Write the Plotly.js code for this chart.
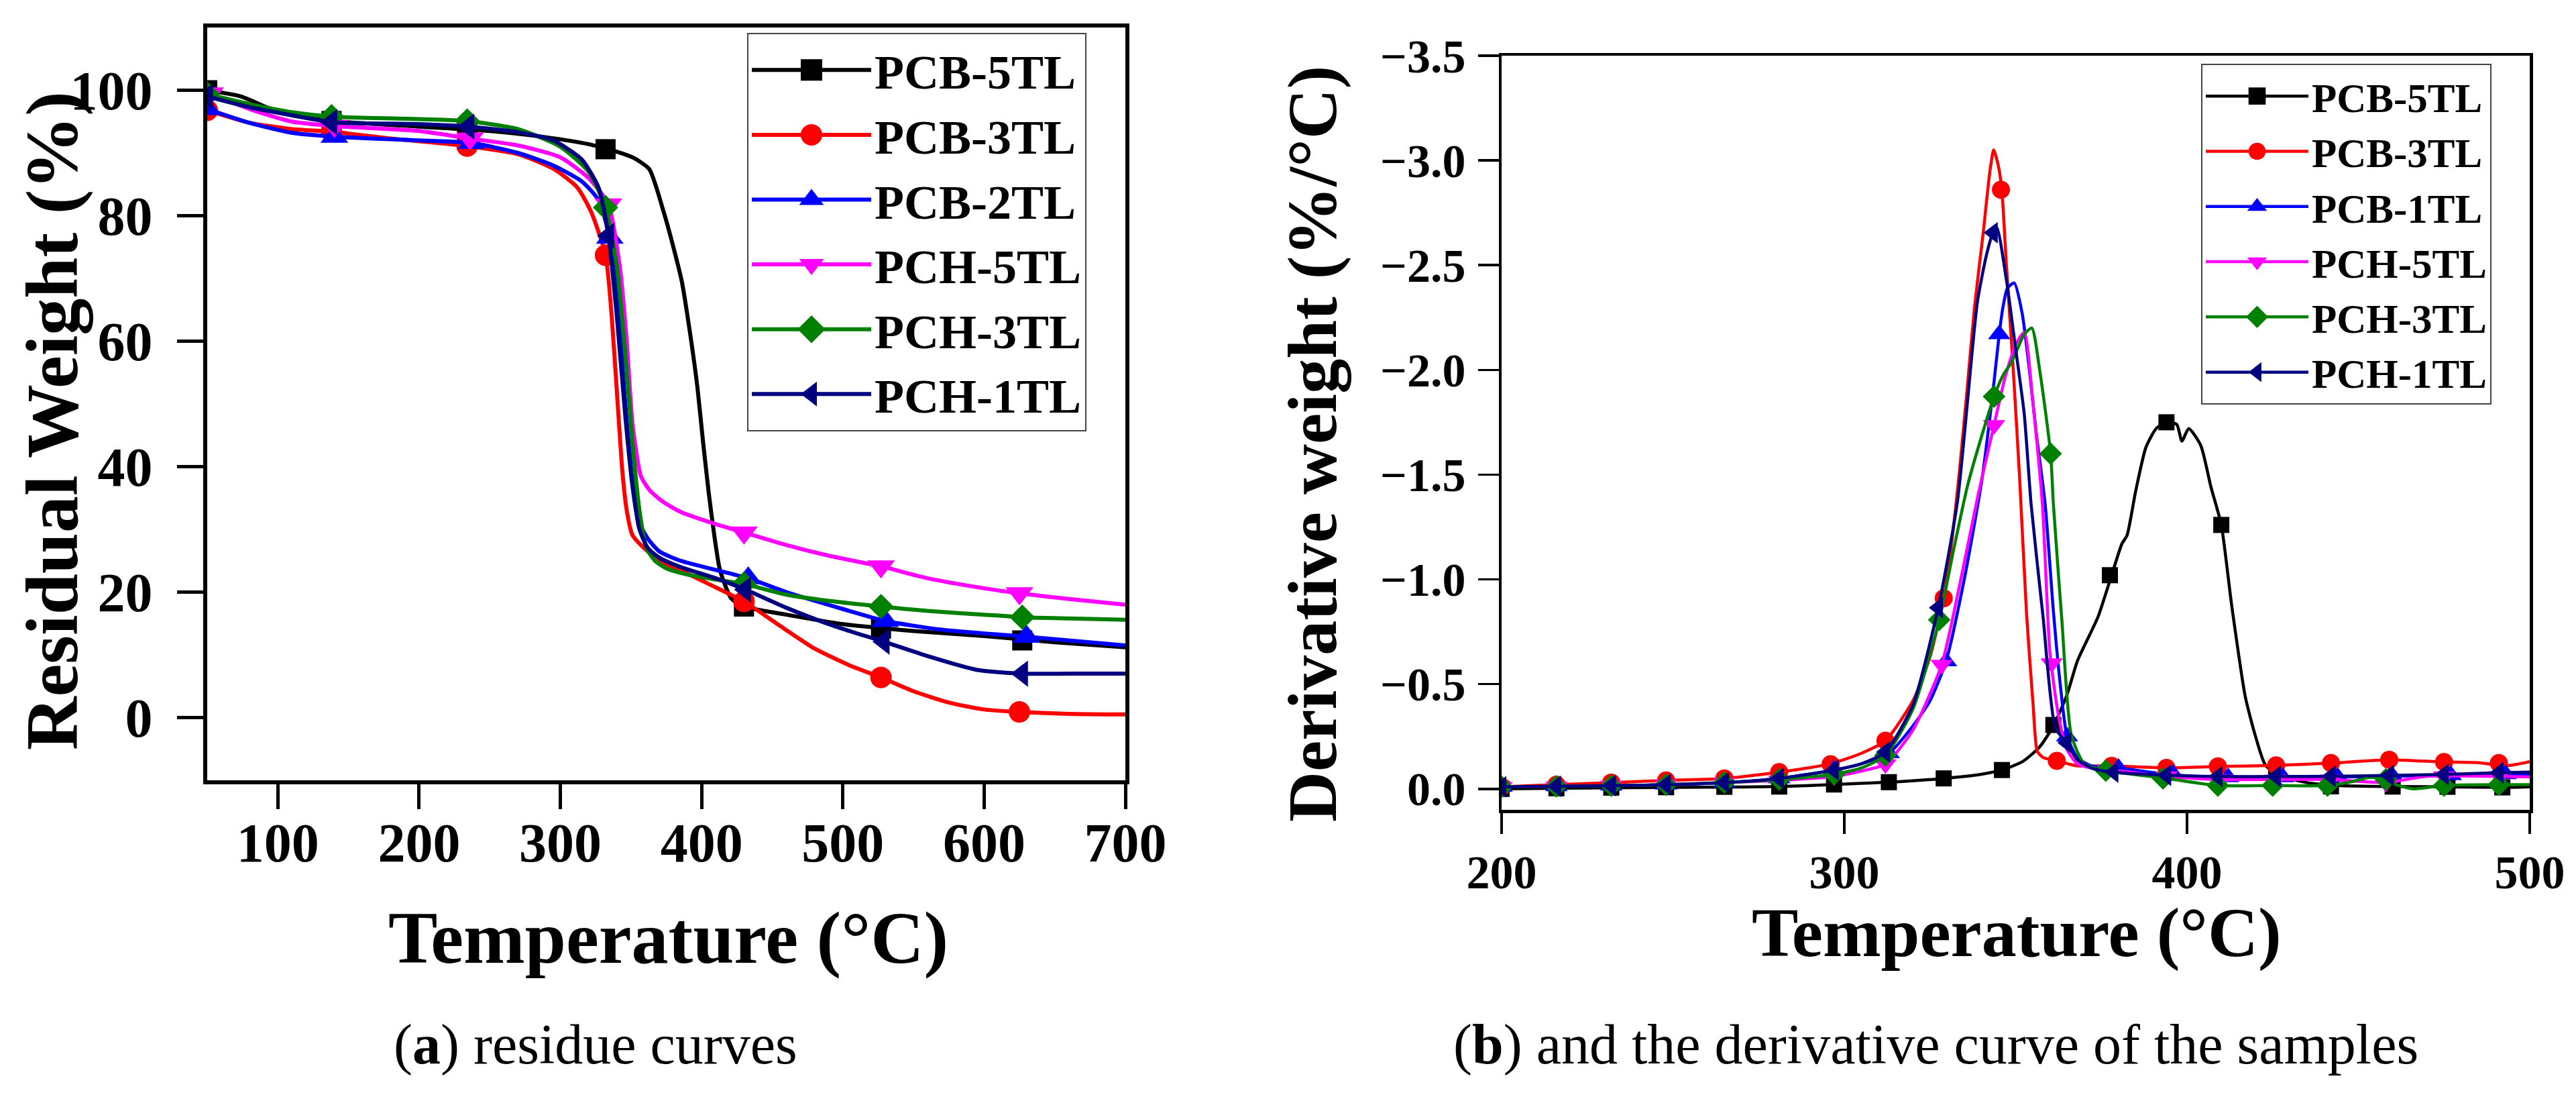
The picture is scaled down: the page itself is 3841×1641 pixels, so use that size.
<!DOCTYPE html>
<html>
<head>
<meta charset="utf-8">
<script src="https://cdn.plot.ly/plotly-3.0.1.min.js"></script>
<style>
  html, body { margin: 0; padding: 0; background: #fff; }
  #chart { width: 3841px; height: 1641px; }
</style>
</head>
<body>
<div id="chart"></div>
<script>
var W = 3841, H = 1641;
var FONT = 'Liberation Serif, Times New Roman, serif';

// ---- (a) residue curves (TGA), residual weight %
var tgaB5x = [50, 74, 93, 110, 138, 200, 250, 290, 320, 340, 352, 363, 373, 380, 386, 392, 397, 401, 405, 409, 413, 421, 430, 460, 500, 550, 600, 650, 700];
var tgaB5y = [100, 99, 97.2, 96, 95.1, 94.2, 93.5, 92.5, 91.4, 90.2, 89.2, 87.4, 80.7, 75, 69.5, 61, 52.7, 44, 35.9, 29, 23.5, 19, 17.7, 16.4, 14.9, 13.8, 13, 12, 11.2];
var tgaB3x = [50, 80, 110, 138, 180, 234, 270, 295, 312, 322, 332, 336, 340, 344, 347, 351, 357, 369, 385, 405, 430, 455, 480, 505, 527, 550, 575, 600, 625, 660, 700];
var tgaB3y = [96.8, 94.8, 93.8, 93.4, 92.3, 91.1, 89.8, 87.5, 84.5, 80.5, 73.7, 65, 52, 39, 33, 29.1, 27.5, 25.2, 23.5, 21.3, 18.5, 14.7, 11, 8.3, 6.4, 4.2, 2.4, 1.3, 0.9, 0.6, 0.5];
var tgaB2x = [50, 80, 110, 140, 200, 237, 270, 295, 315, 327, 335, 341, 346, 351, 356, 362, 370, 385, 405, 433, 460, 500, 530, 570, 600, 630, 665, 700];
var tgaB2y = [97, 94.8, 93.2, 92.6, 92, 91.6, 90, 88, 85.5, 82.5, 76.5, 65, 50, 38, 31, 28.5, 26.5, 25, 23.8, 22.2, 20, 17.3, 15.4, 14, 13.4, 12.9, 12.2, 11.5];
var tgaH5x = [50, 80, 110, 140, 200, 236, 270, 300, 320, 334, 342, 347, 351, 357, 363, 372, 385, 405, 430, 460, 490, 527, 560, 600, 625, 660, 700];
var tgaH5y = [99.7, 97, 95, 94.3, 93.5, 92.3, 91.2, 89.3, 86, 81.8, 72, 60, 47, 38.5, 36.3, 34.5, 32.8, 31.2, 29.5, 27.5, 25.8, 24.1, 22.2, 20.6, 19.8, 18.9, 18];
var tgaH3x = [50, 80, 110, 138, 200, 234, 270, 300, 320, 332, 340, 346, 351, 356, 361, 367, 375, 390, 410, 430, 460, 490, 527, 560, 600, 627, 660, 700];
var tgaH3y = [99.4, 97.8, 96.5, 95.8, 95.4, 95.1, 93.8, 91, 87, 81.3, 72, 58, 44, 33, 27, 25, 23.8, 22.8, 22, 21.3, 19.6, 18.6, 17.7, 17, 16.4, 16, 15.8, 15.6];
var tgaH1x = [50, 80, 110, 138, 200, 235, 270, 295, 315, 327, 334, 340, 346, 351, 356, 362, 370, 385, 410, 431, 460, 495, 529, 560, 595, 627, 660, 700];
var tgaH1y = [99, 97.3, 96, 94.9, 94.6, 94.2, 93.3, 92, 89, 84.5, 76.8, 64, 48, 37, 30, 27, 25.5, 24, 22.2, 20.4, 17.5, 14.5, 12.1, 9.8, 7.6, 7.0, 7, 7];

// symbols sit on every few points of each curve
var tgaB5mx = [50, 138, 234, 332, 430, 527, 627];
var tgaB5my = [100, 95.1, 93.7, 90.6, 17.7, 14.2, 12.3];
var tgaB3mx = [50, 138, 234, 332, 430, 527, 625];
var tgaB3my = [96.8, 93.4, 91.1, 73.7, 18.5, 6.4, 0.9];
var tgaB2mx = [50, 140, 237, 335, 433, 530, 630];
var tgaB2my = [97, 92.6, 91.6, 76.5, 22.2, 15.4, 12.9];
var tgaH5mx = [52, 140, 236, 334, 430, 527, 625];
var tgaH5my = [99.5, 94.3, 92.3, 81.8, 29.5, 24.1, 19.8];
var tgaH3mx = [50, 138, 234, 332, 430, 527, 627];
var tgaH3my = [99.4, 95.8, 95.1, 81.3, 21.3, 17.7, 16.0];
var tgaH1mx = [50, 138, 235, 334, 431, 529, 627];
var tgaH1my = [99, 94.9, 94.2, 76.8, 20.4, 12.1, 7.0];

// ---- (b) derivative curves (DTG), %/°C
var dtgB5x = [200, 230, 260, 281, 297, 313, 329, 340, 346, 352, 357, 361, 365, 368, 374, 378, 381, 382.5, 385, 388, 391, 394, 397, 398.5, 400.5, 404, 407, 410, 413, 417, 420, 423, 428, 435, 445, 460, 476, 492, 500];
var dtgB5y = [0, -0.005, -0.008, -0.011, -0.021, -0.032, -0.05, -0.07, -0.09, -0.13, -0.2, -0.3, -0.45, -0.61, -0.82, -1.02, -1.17, -1.21, -1.42, -1.63, -1.72, -1.75, -1.74, -1.66, -1.72, -1.64, -1.44, -1.26, -0.88, -0.44, -0.25, -0.11, -0.06, -0.03, -0.015, -0.011, -0.01, -0.007, -0.01];
var dtgB3x = [200, 216, 232, 248, 265, 281, 296, 305, 312, 320, 325, 329, 331.5, 333.5, 335.8, 338, 340.5, 342.5, 343.6, 345, 346, 347.3, 349.3, 351.2, 353.2, 355.1, 356.3, 358, 362, 368, 378, 394, 409, 426, 442, 459, 475, 485, 493, 500];
var dtgB3y = [-0.01, -0.02, -0.03, -0.04, -0.05, -0.08, -0.12, -0.17, -0.23, -0.42, -0.63, -0.91, -1.2, -1.5, -1.9, -2.3, -2.65, -2.95, -3.05, -2.97, -2.85, -2.5, -2.0, -1.47, -0.83, -0.4, -0.18, -0.15, -0.134, -0.11, -0.11, -0.1, -0.107, -0.112, -0.123, -0.139, -0.128, -0.125, -0.11, -0.13];
var dtgB1x = [200, 216, 232, 248, 265, 281, 297, 305, 313, 320, 325, 329.7, 335, 340.1, 343.4, 345.2, 346.3, 347.6, 349.6, 351.9, 354, 356, 358.6, 361, 363, 365, 368, 372, 380, 394, 409, 426, 442, 459, 475, 491, 500];
var dtgB1y = [-0.01, -0.012, -0.015, -0.02, -0.03, -0.05, -0.09, -0.12, -0.17, -0.3, -0.42, -0.61, -1.0, -1.47, -1.9, -2.17, -2.3, -2.39, -2.415, -2.27, -2.0, -1.7, -1.36, -0.85, -0.5, -0.25, -0.15, -0.11, -0.1, -0.07, -0.055, -0.055, -0.056, -0.06, -0.065, -0.07, -0.07];
var dtgH5x = [200, 216, 232, 248, 265, 281, 297, 305, 312, 320, 328.4, 334, 339, 343.7, 347, 350, 352.5, 355, 357.8, 360, 362.5, 364.9, 368, 372, 378, 394, 409, 426, 442, 458, 470, 490, 500];
var dtgH5y = [-0.01, -0.012, -0.015, -0.02, -0.03, -0.04, -0.06, -0.085, -0.118, -0.28, -0.593, -1.0, -1.4, -1.737, -1.97, -2.12, -2.18, -1.85, -1.36, -0.65, -0.35, -0.19, -0.12, -0.1, -0.09, -0.06, -0.045, -0.045, -0.045, -0.03, -0.06, -0.06, -0.057];
var dtgH3x = [200, 216, 232, 248, 265, 281, 297, 305, 312, 320, 327.7, 332, 336, 340, 343.7, 346.5, 348.6, 350.5, 352.5, 354.7, 357, 360.2, 361, 363.5, 366.2, 370, 376.3, 394, 409, 425, 441, 447, 453, 456, 461, 466, 475, 491, 500];
var dtgH3y = [-0.01, -0.012, -0.015, -0.02, -0.03, -0.045, -0.07, -0.1, -0.16, -0.38, -0.807, -1.15, -1.45, -1.68, -1.873, -1.98, -2.03, -2.1, -2.17, -2.2, -2.0, -1.6, -1.36, -0.8, -0.26, -0.12, -0.087, -0.05, -0.016, -0.016, -0.016, -0.03, -0.054, -0.05, -0.02, 0.0, -0.016, -0.02, -0.02];
var dtgH1x = [200, 216, 232, 248, 265, 281, 297, 305, 312, 320, 327.4, 333, 338.8, 341.5, 343.4, 344.5, 347.3, 350, 352.5, 354.5, 358, 361.6, 364.9, 368, 372, 378, 394, 409, 426, 442, 459, 475, 491, 500];
var dtgH1y = [-0.01, -0.012, -0.015, -0.02, -0.03, -0.05, -0.09, -0.12, -0.176, -0.4, -0.865, -1.37, -2.32, -2.55, -2.655, -2.68, -2.43, -2.1, -1.79, -1.36, -0.82, -0.29, -0.22, -0.14, -0.1, -0.08, -0.065, -0.059, -0.059, -0.06, -0.064, -0.069, -0.077, -0.08];

var dtgB5mx = [200, 216, 232, 248, 265, 281, 297, 313, 329, 346, 361, 377.5, 394, 410, 426, 442, 460, 476, 492];
var dtgB5my = [0, -0.003, -0.006, -0.008, -0.01, -0.011, -0.021, -0.032, -0.05, -0.09, -0.305, -1.02, -1.75, -1.26, -0.08, -0.012, -0.011, -0.01, -0.007];
var dtgB3mx = [200, 216, 232, 248, 265, 281, 296, 312, 329, 345.7, 362, 378, 394, 409, 426, 442, 459, 475, 491];
var dtgB3my = [-0.01, -0.02, -0.03, -0.04, -0.05, -0.08, -0.118, -0.23, -0.91, -2.86, -0.134, -0.11, -0.1, -0.107, -0.112, -0.123, -0.139, -0.128, -0.123];
var dtgB1mx = [200, 216, 232, 248, 265, 281, 297, 313, 329.7, 345.2, 365, 380, 396, 412, 428, 444, 460, 477, 493];
var dtgB1my = [-0.01, -0.012, -0.015, -0.02, -0.03, -0.05, -0.09, -0.17, -0.609, -2.17, -0.25, -0.1, -0.07, -0.055, -0.055, -0.056, -0.06, -0.065, -0.07];
var dtgH5mx = [200, 216, 232, 248, 265, 281, 297, 312, 328.4, 343.7, 360.5, 377, 394, 410, 426, 442, 458, 475, 491];
var dtgH5my = [-0.01, -0.012, -0.015, -0.02, -0.03, -0.04, -0.06, -0.118, -0.593, -1.737, -0.6, -0.09, -0.06, -0.045, -0.045, -0.045, -0.03, -0.06, -0.06];
var dtgH3mx = [200, 216, 232, 248, 265, 281, 297, 312, 327.7, 343.7, 360.2, 376.3, 393, 409, 425, 441, 458, 475, 491];
var dtgH3my = [-0.01, -0.012, -0.015, -0.02, -0.03, -0.045, -0.07, -0.16, -0.807, -1.873, -1.6, -0.087, -0.05, -0.016, -0.016, -0.016, -0.045, -0.016, -0.02];
var dtgH1mx = [200, 216, 232, 248, 265, 281, 297, 312, 327.4, 343.4, 364.9, 378.6, 394, 409, 426, 442, 459, 475, 491];
var dtgH1my = [-0.01, -0.012, -0.015, -0.02, -0.03, -0.05, -0.09, -0.176, -0.865, -2.655, -0.22, -0.08, -0.065, -0.059, -0.059, -0.06, -0.064, -0.069, -0.077];

// styles (kept apart from the values)
var tgaStyle = [
	{name: 'PCB-5TL', color: '#000000', symbol: 'square', size: 30},
	{name: 'PCB-3TL', color: '#ff0000', symbol: 'circle', size: 32},
	{name: 'PCB-2TL', color: '#0000ff', symbol: 'triangle-up', size: 36},
	{name: 'PCH-5TL', color: '#ff00ff', symbol: 'triangle-down', size: 36},
	{name: 'PCH-3TL', color: '#008000', symbol: 'diamond', size: 29},
	{name: 'PCH-1TL', color: '#000080', symbol: 'triangle-left', size: 34}
];
var dtgStyle = [
	{name: 'PCB-5TL', color: '#000000', symbol: 'square', size: 24},
	{name: 'PCB-3TL', color: '#ff0000', symbol: 'circle', size: 27},
	{name: 'PCB-1TL', color: '#0000ff', symbol: 'triangle-up', size: 29},
	{name: 'PCH-5TL', color: '#ff00ff', symbol: 'triangle-down', size: 29},
	{name: 'PCH-3TL', color: '#008000', symbol: 'diamond', size: 26},
	{name: 'PCH-1TL', color: '#000080', symbol: 'triangle-left', size: 28}
];

var tgaLines = [[tgaB5x, tgaB5y], [tgaB3x, tgaB3y], [tgaB2x, tgaB2y], [tgaH5x, tgaH5y], [tgaH3x, tgaH3y], [tgaH1x, tgaH1y]];
var tgaMarks = [[tgaB5mx, tgaB5my], [tgaB3mx, tgaB3my], [tgaB2mx, tgaB2my], [tgaH5mx, tgaH5my], [tgaH3mx, tgaH3my], [tgaH1mx, tgaH1my]];
var dtgLines = [[dtgB5x, dtgB5y], [dtgB3x, dtgB3y], [dtgB1x, dtgB1y], [dtgH5x, dtgH5y], [dtgH3x, dtgH3y], [dtgH1x, dtgH1y]];
var dtgMarks = [[dtgB5mx, dtgB5my], [dtgB3mx, dtgB3my], [dtgB1mx, dtgB1my], [dtgH5mx, dtgH5my], [dtgH3mx, dtgH3my], [dtgH1mx, dtgH1my]];

// isolated points: no segment is drawn between them, but the legend still gets a line
var gapped = function(arr) {
	var out = [];
	for (var i = 0; i < arr.length; i++) { out.push(arr[i], null); }
	return out;
};

var traces = [];
var addPanel = function(lines, marks, styles, xa, ya, legendId, lw) {
	for (var i = 0; i < lines.length; i++) {
		var st = styles[i];
		traces.push({
			type: 'scatter', mode: 'lines', x: lines[i][0], y: lines[i][1],
			xaxis: xa, yaxis: ya, showlegend: false, hoverinfo: 'skip',
			line: {color: st.color, width: lw, shape: 'spline', smoothing: 0.6}
		});
		traces.push({
			type: 'scatter', mode: 'lines+markers', name: st.name, legend: legendId,
			x: gapped(marks[i][0]), y: gapped(marks[i][1]), connectgaps: false,
			xaxis: xa, yaxis: ya,
			line: {color: st.color, width: lw},
			marker: {symbol: st.symbol, size: st.size, color: st.color, line: {width: 0}}
		});
	}
};
addPanel(tgaLines, tgaMarks, tgaStyle, 'x', 'y', 'legend', 6);
addPanel(dtgLines, dtgMarks, dtgStyle, 'x2', 'y2', 'legend2', 4.5);

var axisBase = function(lw, tlen, size, standoff) {
	return {
		showline: true, mirror: true, linecolor: '#000', linewidth: lw,
		ticks: 'outside', ticklen: tlen, tickwidth: lw - 1, tickcolor: '#000',
		showgrid: false, zeroline: false, ticklabelstandoff: standoff,
		tickfont: {family: FONT, size: size, color: '#000', weight: 'bold'}
	};
};

var xa1 = axisBase(6, 37, 82, -20);
xa1.domain = [309 / W, 1678 / W]; xa1.range = [50, 700]; xa1.dtick = 100; xa1.tick0 = 0; xa1.anchor = 'y';
var ya1 = axisBase(6, 39, 82, 20);
ya1.domain = [1 - 1163 / H, 1 - 41 / H]; ya1.range = [-10, 110]; ya1.dtick = 20; ya1.tick0 = 0; ya1.anchor = 'x';
var xa2 = axisBase(4.5, 31, 70, -3);
xa2.domain = [2239 / W, 3772 / W]; xa2.range = [200, 500]; xa2.dtick = 100; xa2.tick0 = 0; xa2.anchor = 'y2';
var ya2 = axisBase(4.5, 31, 70, 4);
ya2.domain = [1 - 1207 / H, 1 - 83 / H]; ya2.range = [0.1, -3.5]; ya2.dtick = 0.5; ya2.tick0 = 0; ya2.tickformat = '.1f'; ya2.anchor = 'x2';

var legendBase = function(x, y, size, itemw) {
	return {
		x: x, y: y, xanchor: 'left', yanchor: 'top', bgcolor: '#fff',
		bordercolor: '#444', borderwidth: 2, itemwidth: itemw, tracegroupgap: 0,
		font: {family: FONT, size: size, color: '#000', weight: 'bold'}
	};
};

var note = function(text, x, y, size, bold, angle) {
	return {
		xref: 'paper', yref: 'paper', x: x / W, y: 1 - y / H, text: text,
		showarrow: false, xanchor: 'center', yanchor: 'middle', textangle: angle || 0,
		font: {family: FONT, size: size, color: '#000', weight: bold ? 'bold' : 'normal'}
	};
};

var layout = {
	width: W, height: H, margin: {l: 0, r: 0, t: 0, b: 0},
	paper_bgcolor: '#fff', plot_bgcolor: '#fff',
	xaxis: xa1, yaxis: ya1, xaxis2: xa2, yaxis2: ya2,
	legend: legendBase(1114 / W, 1 - 49 / H, 72, 178),
	legend2: legendBase(3282 / W, 1 - 95 / H, 61, 153),
	annotations: [
		note('Temperature (°C)', 996, 1398, 110, true),
		note('Residual Weight (%)', 78, 627, 110, true, -90),
		note('Temperature (°C)', 3007, 1390, 104, true),
		note('Derivative weight (%/°C)', 1957, 661, 104, true, -90),
		note('(<b>a</b>) residue curves', 888, 1557, 84, false),
		note('(<b>b</b>) and the derivative curve of the samples', 2886, 1557, 84, false)
	]
};

Plotly.newPlot('chart', traces, layout, {staticPlot: true, displayModeBar: false}).then(function(gd) {
	// plotly caps legend symbols at 16px; the figure's key uses full-size symbols and thick lines
	gd.querySelectorAll('.legendpoints path.scatterpts').forEach(function(p) {
		var right = p.getBoundingClientRect().left > W / 2;
		p.setAttribute('transform', (p.getAttribute('transform') || '') + ' scale(' + (right ? 1.6 : 2.0) + ')');
	});
	gd.querySelectorAll('.legendlines path').forEach(function(l) {
		var right = l.getBoundingClientRect().left > W / 2;
		l.style.strokeWidth = right ? '4.5px' : '6px';
	});
});
</script>
</body>
</html>
